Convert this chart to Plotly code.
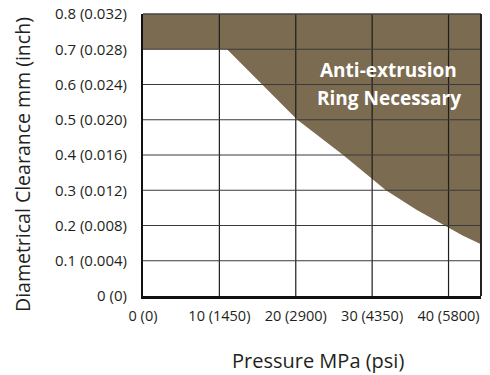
import plotly.graph_objects as go

# ---- data ----
x_ticks = [0, 10, 20, 30, 40]
x_tick_labels = ["0 (0)", "10 (1450)", "20 (2900)", "30 (4350)", "40 (5800)"]
y_ticks = [0, 0.1, 0.2, 0.3, 0.4, 0.5, 0.6, 0.7, 0.8]
y_tick_labels = ["0 (0)", "0.1 (0.004)", "0.2 (0.008)", "0.3 (0.012)", "0.4 (0.016)",
                 "0.5 (0.020)", "0.6 (0.024)", "0.7 (0.028)", "0.8 (0.032)"]
x_title = "Pressure MPa (psi)"
y_title = "Diametrical Clearance mm (inch)"

# boundary of the "anti-extrusion ring necessary" region (pressure MPa, clearance mm)
boundary_pressure = [0, 11.0, 15.6, 20.2, 26.2, 31.8, 35.8, 39.5, 41.9, 44.25]
boundary_clearance = [0.7, 0.7, 0.6, 0.5, 0.4, 0.3, 0.245, 0.2, 0.171, 0.147]

x_max = 44.25
y_max = 0.8

FILL = "#7B6B50"
FONT = "Open Sans"
TEXT = "#231f20"

poly_x = [0] + boundary_pressure + [x_max]
poly_y = [y_max] + boundary_clearance + [y_max]

fig = go.Figure()
fig.add_trace(go.Scatter(
    x=poly_x, y=poly_y, mode="lines", fill="toself", fillcolor=FILL,
    line=dict(width=0, color=FILL), hoverinfo="skip", showlegend=False,
))

shapes = []
for xv in x_ticks[1:]:
    shapes.append(dict(type="line", xref="x", yref="y", x0=xv, x1=xv, y0=0, y1=y_max,
                       line=dict(color="#1e1e1e", width=1.2), layer="above"))
for yv in y_ticks[1:-1]:
    shapes.append(dict(type="line", xref="x", yref="y", x0=0, x1=x_max, y0=yv, y1=yv,
                       line=dict(color="#3a3a3a", width=1.2), layer="above"))
# frame: top and right
shapes.append(dict(type="line", xref="paper", yref="paper", x0=0, x1=1, y0=1, y1=1,
                   line=dict(color="#444444", width=1.5), layer="above"))
shapes.append(dict(type="line", xref="paper", yref="paper", x0=1, x1=1, y0=0, y1=1,
                   line=dict(color="#222222", width=2), layer="above"))

# page body has an 8px default margin, so the figure is sized to fit the 490x375 window
fig.update_layout(
    width=482, height=367,
    margin=dict(l=135, r=9, t=6, b=79),
    paper_bgcolor="white", plot_bgcolor="white",
    font=dict(family=FONT, color=TEXT, size=15),
    showlegend=False,
    shapes=shapes,
    xaxis=dict(
        range=[0, x_max], tickvals=x_ticks, ticktext=x_tick_labels,
        showgrid=False, zeroline=False, showline=True, linecolor="#111111", linewidth=3,
        ticks="outside", ticklen=5, tickcolor="rgba(0,0,0,0)",
        tickfont=dict(size=14.5), automargin=False, ticklabeloverflow="allow",
        fixedrange=True,
    ),
    yaxis=dict(
        range=[0, y_max], tickvals=y_ticks, ticktext=y_tick_labels,
        showgrid=False, zeroline=False, showline=True, linecolor="#111111", linewidth=2,
        ticks="outside", ticklen=11, tickcolor="rgba(0,0,0,0)",
        tickfont=dict(size=15), automargin=False, ticklabeloverflow="allow",
        fixedrange=True,
    ),
    annotations=[
        dict(x=32.2, y=0.641, xref="x", yref="y", text="<b>Anti-extrusion</b>",
             showarrow=False, font=dict(size=19, color="white", family=FONT),
             xanchor="center", yanchor="middle"),
        dict(x=32.2, y=0.562, xref="x", yref="y", text="<b>Ring Necessary</b>",
             showarrow=False, font=dict(size=19, color="white", family=FONT),
             xanchor="center", yanchor="middle"),
        dict(x=0.5, y=0, xref="paper", yref="paper", text=x_title, showarrow=False,
             font=dict(size=20, color=TEXT, family=FONT), xanchor="center", yanchor="middle",
             xshift=6, yshift=-64),
        dict(x=0, y=0.5, xref="paper", yref="paper", text=y_title, showarrow=False,
             textangle=-90, font=dict(size=19.5, color=TEXT, family=FONT),
             xanchor="center", yanchor="middle", xshift=-121, yshift=-10),
    ],
)

fig.write_html("out.html")
